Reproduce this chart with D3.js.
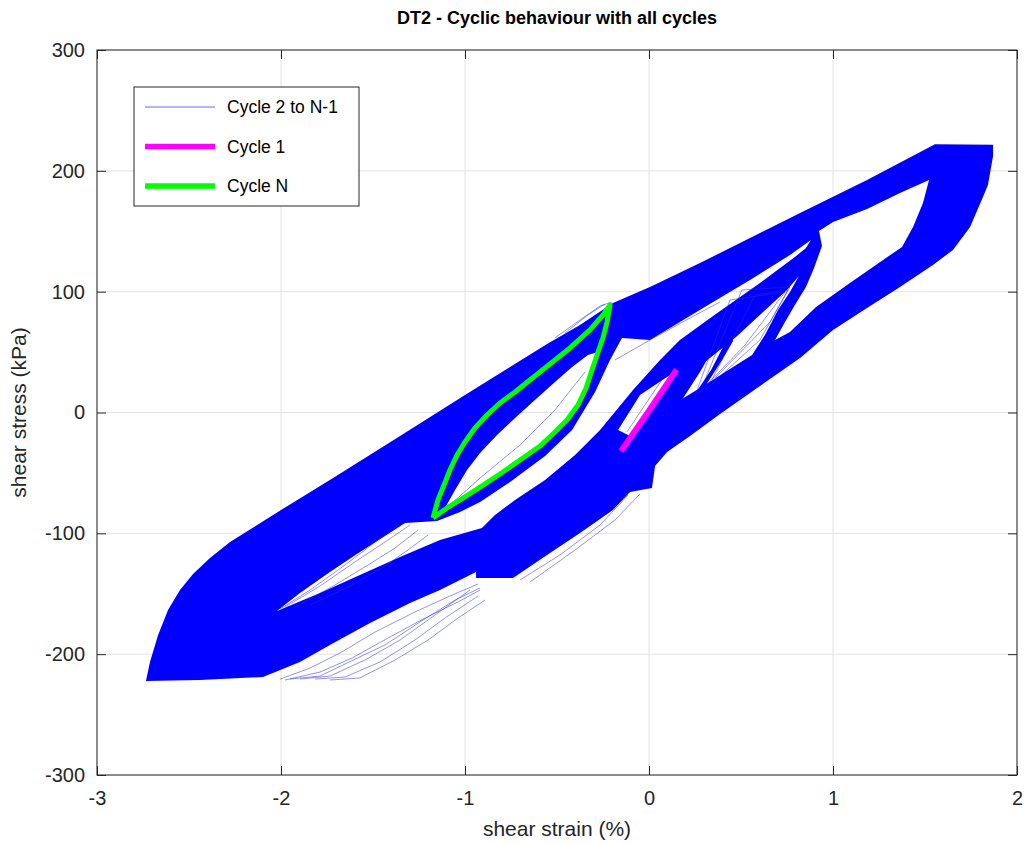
<!DOCTYPE html>
<html>
<head>
<meta charset="utf-8">
<script src="https://cdn.jsdelivr.net/npm/d3@7"></script>
<style>
  html, body { margin: 0; padding: 0; background: #ffffff; }
  svg { display: block; font-family: "Liberation Sans", Arial, Helvetica, sans-serif; }
</style>
</head>
<body>
<svg id="chart" width="1025" height="843"></svg>
<script>
// ---- axis ticks ----
const xTicks = [-3, -2, -1, 0, 1, 2];
const yTicks = [-300, -200, -100, 0, 100, 200, 300];

// ---- cycles 2 .. N-1 : outline of the dense bundle of loops (shear strain %, shear stress kPa) ----
const bundleOutline = [
  [-2.734,-222.2],[-2.712,-206.5],[-2.668,-184.1],[-2.614,-163.5],[-2.549,-146.9],[-2.478,-133.7],
  [-2.386,-120.4],[-2.277,-107.2],[-2.000,-80.7],[-1.717,-54.2],[-1.353,-19.4],[-1.000,14.5],
  [-0.554,56.7],[-0.375,72.4],[-0.196,90.6],[0.005,103.9],[0.277,123.7],[0.549,144.4],
  [0.821,165.1],[1.185,192.4],[1.554,222.0],[1.870,221.5],[1.870,212.3],[1.842,188.3],
  [1.815,178.3],[1.745,153.5],[1.652,134.5],[1.543,122.1],[1.364,103.9],[1.185,86.5],
  [1.000,68.3],[0.821,45.1],[0.603,21.9],[0.386,-1.2],[0.223,-19.4],[0.098,-32.7],
  [0.033,-44.3],[0.016,-62.5],[-0.103,-65.8],[-0.196,-80.7],[-0.375,-99.7],[-0.538,-116.3],
  [-0.739,-137.0],[-0.940,-137.0],[-0.940,-132.0],[-1.136,-146.9],[-1.299,-157.7],[-1.516,-174.2],
  [-1.734,-192.4],[-1.897,-206.5],[-2.098,-218.9],[-2.440,-221.4]
];

// open areas left inside the bundle
const gapLowerLeft = [
  [-2.022,-164.3],[-1.897,-149.4],[-1.734,-132.0],[-1.571,-115.5],[-1.435,-102.2],[-1.326,-91.5],
  [-1.152,-89.8],[-1.027,-82.3],[-0.918,-74.1],[-0.755,-57.5],[-0.565,-36.0],[-0.418,-14.5],
  [-0.293,17.0],[-0.212,43.4],[-0.147,61.7],[0.005,60.0],[0.168,74.9],[0.348,91.5],
  [0.549,109.7],[0.766,130.3],[0.880,142.8],[0.853,136.1],[0.793,128.7],[0.603,107.2],
  [0.348,79.9],[0.168,60.0],[0.060,43.4],[-0.087,18.6],[-0.266,-14.5],[-0.402,-35.2],
  [-0.565,-55.9],[-0.728,-72.4],[-0.837,-84.8],[-0.908,-95.6],[-1.136,-105.5],[-1.353,-119.6],
  [-1.571,-134.5],[-1.788,-149.4]
];
const gapInsideLast = [
  [-1.109,-79.0],[-1.054,-64.1],[-0.989,-47.6],[-0.918,-33.5],[-0.826,-18.6],[-0.728,-4.6],
  [-0.620,10.3],[-0.511,25.2],[-0.418,37.7],[-0.332,47.6],[-0.277,50.1],[-0.310,35.2],
  [-0.342,20.3],[-0.386,6.2],[-0.446,-6.2],[-0.511,-16.1],[-0.592,-27.7],[-0.701,-39.3],
  [-0.810,-50.9],[-0.918,-61.7],[-1.027,-72.4],[-1.098,-79.0]
];
const gapLargeLoop = [
  [1.522,192.4],[1.364,181.7],[1.185,168.4],[1.000,157.7],[0.924,150.2],[0.940,137.8],
  [0.897,119.6],[0.853,103.9],[0.793,89.0],[0.739,74.9],[0.685,60.0],[0.766,66.6],
  [0.908,87.3],[1.092,107.2],[1.272,126.2],[1.375,137.0],[1.435,153.5],[1.489,173.4]
];
const gapMediumLoop = [
  [-0.168,-14.5],[-0.049,14.5],[0.114,31.0],[0.304,41.8],[0.467,61.7],[0.620,83.2],
  [0.750,101.4],[0.815,113.0],[0.766,99.7],[0.701,84.8],[0.630,64.1],[0.560,47.6],
  [0.457,37.7],[0.277,20.3],[0.098,3.7],[-0.049,-10.3],[-0.092,-20.3]
];

// small loops around the origin (band and its narrow open core)
const smallLoopBand = [
  [-0.152,-32.7],[-0.005,0.4],[0.152,35.2],[0.277,60.0],[0.321,65.8],[0.446,64.1],
  [0.457,59.2],[0.397,43.4],[0.310,22.8],[0.223,6.2],[0.114,-12.8],[-0.022,-31.0]
];
const smallLoopCore = [
  [0.179,10.3],[0.277,33.5],[0.359,55.0],[0.408,55.9],[0.337,35.2],[0.217,7.9]
];

// individual sparse cycles visible at the fringes of the bundle
const thinCycles = [
  [[-2.005,-220.6],[-1.842,-211.5],[-1.679,-199.0],[-1.489,-181.7],[-1.272,-165.1],[-1.082,-151.9],[-0.929,-141.9]],
  [[-1.978,-221.4],[-1.788,-214.8],[-1.614,-203.2],[-1.418,-186.6],[-1.217,-170.1],[-1.038,-156.8],[-0.918,-146.9]],
  [[-1.951,-220.6],[-1.788,-218.1],[-1.652,-208.1],[-1.435,-192.4],[-1.245,-173.4],[-1.054,-155.2],[-0.918,-145.2]],
  [[-1.897,-220.6],[-1.734,-218.1],[-1.543,-204.8],[-1.353,-188.3],[-1.163,-167.6],[-0.973,-146.9]],
  [[-1.815,-220.6],[-1.652,-218.9],[-1.462,-206.5],[-1.272,-188.3],[-1.109,-170.1],[-0.929,-151.9]],
  [[-1.734,-221.4],[-1.571,-219.7],[-1.380,-204.8],[-1.201,-188.3],[-1.038,-170.1],[-0.891,-155.2]],
  [[-2.005,-162.6],[-1.842,-146.9],[-1.652,-126.2],[-1.473,-105.5],[-1.342,-90.6]],
  [[-1.978,-161.0],[-1.788,-143.6],[-1.598,-123.7],[-1.435,-107.2],[-1.299,-93.1]],
  [[-1.924,-161.0],[-1.707,-142.8],[-1.527,-126.2],[-1.380,-112.1],[-1.255,-97.2]],
  [[-1.842,-159.3],[-1.625,-143.6],[-1.451,-128.7],[-1.310,-113.8],[-1.201,-101.4]],
  [[0.277,17.0],[0.505,101.4],[0.766,103.9],[0.603,60.0],[0.304,18.6]],
  [[0.250,13.7],[0.440,93.1],[0.739,99.7],[0.522,55.9],[0.266,15.3]],
  [[0.342,26.9],[0.576,97.2],[0.755,101.4],[0.658,74.9],[0.359,28.6]],
  [[-0.511,61.7],[-0.375,76.6],[-0.266,88.1],[-0.201,91.5]],
  [[-0.457,65.8],[-0.332,80.7],[-0.239,89.8]],
  [[-0.701,-138.6],[-0.484,-117.9],[-0.266,-93.1],[-0.114,-68.3]],
  [[-0.647,-140.3],[-0.402,-113.8],[-0.185,-89.0],[-0.049,-67.4]],
  [[-0.120,-16.1],[0.098,33.5]],
  [[-0.185,43.4],[0.005,60.0],[0.223,78.2],[0.386,91.5]],
  [[-1.082,-76.6],[-0.918,-54.2],[-0.701,-26.9],[-0.511,2.1],[-0.348,33.5]]
];

// first and last cycles
const cycle1 = [[-0.152,-32.0],[0.000,1.5],[0.150,35.5]];
const cycleN = [
  [-1.174,-87.3],[-1.147,-72.4],[-1.114,-60.0],[-1.082,-47.6],[-1.043,-35.2],[-1.000,-24.4],
  [-0.946,-12.8],[-0.880,-2.1],[-0.810,7.9],[-0.728,17.0],[-0.647,26.9],[-0.538,40.1],
  [-0.429,53.4],[-0.321,68.3],[-0.250,80.7],[-0.212,89.0],
  [-0.228,74.9],[-0.250,61.7],[-0.277,50.1],[-0.310,35.2],[-0.342,20.3],[-0.386,6.2],
  [-0.446,-6.2],[-0.511,-16.1],[-0.592,-27.7],[-0.701,-39.3],[-0.810,-50.9],[-0.918,-61.7],
  [-1.027,-72.4],[-1.098,-79.0],[-1.174,-87.3]
];

const legendItems = [
  { label: "Cycle 2 to N-1", color: "#0000ff", width: 0.6 },
  { label: "Cycle 1",        color: "#ff00ff", width: 5.5 },
  { label: "Cycle N",        color: "#00ff00", width: 5.5 }
];

// ---- layout ----
const svg = d3.select("#chart");
const plot = { left: 97, right: 1017, top: 50, bottom: 775 };
const axisColor = "#262626";
const fontStack = "'Liberation Sans', Arial, Helvetica, sans-serif";

const x = d3.scaleLinear().domain([-3, 2]).range([plot.left, plot.right]);
const y = d3.scaleLinear().domain([-300, 300]).range([plot.bottom, plot.top]);
const line = d3.line().x(d => x(d[0])).y(d => y(d[1]));
const ring = pts => line(pts) + "Z";

svg.append("defs").append("clipPath").attr("id", "plotClip")
  .append("rect")
  .attr("x", plot.left).attr("y", plot.top)
  .attr("width", plot.right - plot.left).attr("height", plot.bottom - plot.top);

// grid
const grid = svg.append("g").attr("stroke", "#e3e3e3").attr("stroke-width", 1);
grid.selectAll("line.gx").data(xTicks).join("line")
  .attr("x1", d => x(d)).attr("x2", d => x(d))
  .attr("y1", plot.top).attr("y2", plot.bottom);
grid.selectAll("line.gy").data(yTicks).join("line")
  .attr("x1", plot.left).attr("x2", plot.right)
  .attr("y1", d => y(d)).attr("y2", d => y(d));

const marks = svg.append("g").attr("clip-path", "url(#plotClip)");

// dense bundle of cycles 2..N-1
marks.append("path")
  .attr("d", [bundleOutline, gapLowerLeft, gapInsideLast, gapLargeLoop, gapMediumLoop].map(ring).join(" "))
  .attr("fill", "#0000ff")
  .attr("fill-rule", "evenodd");

marks.append("path")
  .attr("d", ring(smallLoopBand) + " " + ring(smallLoopCore))
  .attr("fill", "#0000ff")
  .attr("fill-rule", "evenodd");

// sparse individual cycles
marks.append("g").selectAll("path").data(thinCycles).join("path")
  .attr("d", d => line(d))
  .attr("fill", "none")
  .attr("stroke", "#2a2ad0")
  .attr("stroke-width", 0.6)
  .attr("stroke-opacity", 0.85);

// cycle 1
marks.append("path")
  .attr("d", line(cycle1))
  .attr("fill", "none")
  .attr("stroke", "#ff00ff")
  .attr("stroke-width", 6)
  .attr("stroke-linecap", "butt");

// cycle N
marks.append("path")
  .attr("d", line(cycleN))
  .attr("fill", "none")
  .attr("stroke", "#00ff00")
  .attr("stroke-width", 5)
  .attr("stroke-linejoin", "round");

// ---- axes (inward ticks on all four sides) ----
const tickLen = 9;
const xAxis = svg.append("g")
  .attr("transform", `translate(0,${plot.bottom})`)
  .call(d3.axisBottom(x).tickValues(xTicks)
        .tickSizeInner(-tickLen).tickSizeOuter(0).tickPadding(16));
const yAxis = svg.append("g")
  .attr("transform", `translate(${plot.left},0)`)
  .call(d3.axisLeft(y).tickValues(yTicks)
        .tickSizeInner(-tickLen).tickSizeOuter(0).tickPadding(12));
const xTop = svg.append("g")
  .attr("transform", `translate(0,${plot.top})`)
  .call(d3.axisTop(x).tickValues(xTicks).tickFormat("")
        .tickSizeInner(-tickLen).tickSizeOuter(0));
const yRight = svg.append("g")
  .attr("transform", `translate(${plot.right},0)`)
  .call(d3.axisRight(y).tickValues(yTicks).tickFormat("")
        .tickSizeInner(-tickLen).tickSizeOuter(0));

[xAxis, yAxis, xTop, yRight].forEach(g => {
  g.select(".domain").remove();
  g.selectAll(".tick line").attr("stroke", axisColor).attr("stroke-width", 1);
  g.selectAll(".tick text")
    .attr("fill", axisColor)
    .style("font-family", fontStack)
    .style("font-size", "20px");
});
xAxis.selectAll(".tick text").text(d => String(d));
yAxis.selectAll(".tick text").text(d => String(d));

svg.append("rect")
  .attr("x", plot.left).attr("y", plot.top)
  .attr("width", plot.right - plot.left).attr("height", plot.bottom - plot.top)
  .attr("fill", "none").attr("stroke", axisColor).attr("stroke-width", 1);

// ---- titles ----
svg.append("text")
  .attr("x", (plot.left + plot.right) / 2).attr("y", 24)
  .attr("text-anchor", "middle")
  .attr("font-size", 18).attr("font-weight", "bold").attr("fill", "#000")
  .text("DT2 - Cyclic behaviour with all cycles");

svg.append("text")
  .attr("x", (plot.left + plot.right) / 2).attr("y", 836)
  .attr("text-anchor", "middle")
  .attr("font-size", 21).attr("fill", axisColor)
  .text("shear strain (%)");

svg.append("text")
  .attr("transform", `translate(26,${(plot.top + plot.bottom) / 2}) rotate(-90)`)
  .attr("text-anchor", "middle")
  .attr("font-size", 21).attr("fill", axisColor)
  .text("shear stress (kPa)");

// ---- legend ----
const legend = svg.append("g").attr("transform", "translate(134,87)");
legend.append("rect")
  .attr("width", 225).attr("height", 119)
  .attr("fill", "#ffffff").attr("stroke", axisColor).attr("stroke-width", 1);
const rows = legend.selectAll("g.row").data(legendItems).join("g")
  .attr("transform", (d, i) => `translate(0,${20 + i * 39.5})`);
rows.append("line")
  .attr("x1", 11).attr("x2", 81).attr("y1", 0).attr("y2", 0)
  .attr("stroke", d => d.color).attr("stroke-width", d => d.width);
rows.append("text")
  .attr("x", 93).attr("y", 0).attr("dy", "0.35em")
  .attr("font-size", 17.5).attr("fill", "#000")
  .text(d => d.label);
</script>
</body>
</html>
